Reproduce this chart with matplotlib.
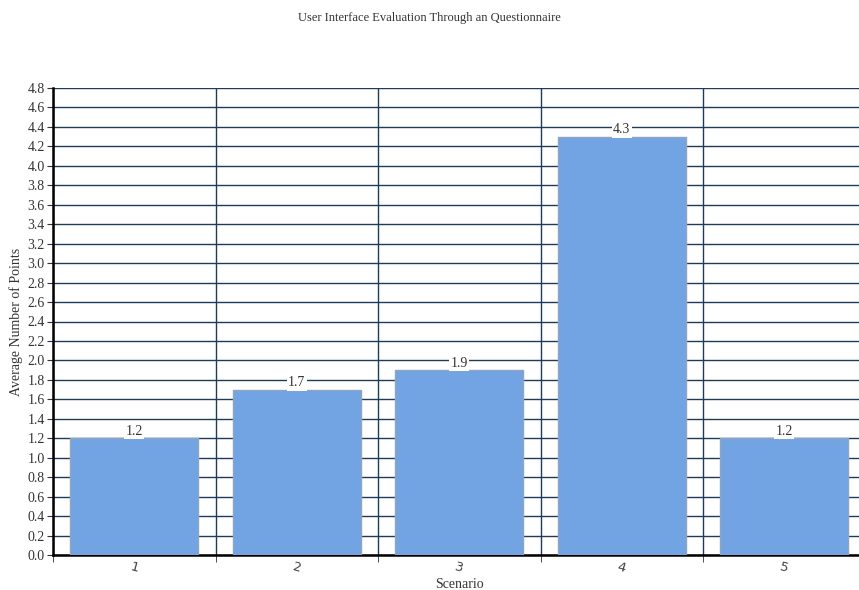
import numpy as np
import matplotlib
matplotlib.use("Agg")
import matplotlib.pyplot as plt
from matplotlib.ticker import FixedLocator

scenarios = ["1", "2", "3", "4", "5"]
avg_points = [1.2, 1.7, 1.9, 4.3, 1.2]

plt.rcParams['font.family'] = ['Liberation Serif', 'DejaVu Serif']

fig = plt.figure(figsize=(8.59, 5.90), dpi=100)
ax = fig.add_axes([53/859, 35/590, 812.5/859, 467/590])

x = np.arange(len(scenarios))
grid_col = '#1f3b5c'

ax.set_ylim(0, 4.8)
ax.set_xlim(-0.5, len(scenarios) - 0.5)
ax.set_yticks(np.arange(0, 4.81, 0.2))
ax.set_yticklabels([f"{v:.1f}" for v in np.arange(0, 4.81, 0.2)])
ax.yaxis.grid(True, color=grid_col, linewidth=1.0)

# category boundaries
ax.xaxis.set_minor_locator(FixedLocator(np.arange(-0.5, len(scenarios), 1.0)))
ax.xaxis.grid(True, which='minor', color=grid_col, linewidth=1.0)
ax.set_xticks(x)
ax.set_xticklabels(scenarios, rotation=-15, fontsize=9.5, color='#444444',
                   family=['DejaVu Sans'])
ax.tick_params(axis='x', which='major', length=0, pad=4)
ax.tick_params(axis='x', which='minor', length=5, color='#333333')
ax.tick_params(axis='y', length=4, labelsize=10, colors='#333333', pad=2)
ax.set_axisbelow(True)

bars = ax.bar(x, avg_points, width=0.79, color='#72a4e3', edgecolor='#8fa4bd',
              linewidth=1.0, zorder=3)
for xi, v in zip(x, avg_points):
    ax.text(xi, v + 0.07, f"{v:.1f}", ha='center', va='center', fontsize=10,
            color='#333333', zorder=4,
            bbox=dict(facecolor='white', edgecolor='none', pad=1.0))

for s in ['top', 'right']:
    ax.spines[s].set_visible(False)
ax.spines['left'].set_linewidth(1.8)
ax.spines['bottom'].set_linewidth(1.8)

ax.set_xlabel("Scenario", fontsize=10, color='#333333', labelpad=2)
ax.set_ylabel("Average Number of Points", fontsize=10, color='#333333', labelpad=3)
fig.text(0.5, 1 - 18/590, "User Interface Evaluation Through an Questionnaire",
         ha='center', va='center', fontsize=9, color='#333333')

fig.savefig("out.png", dpi=100)
